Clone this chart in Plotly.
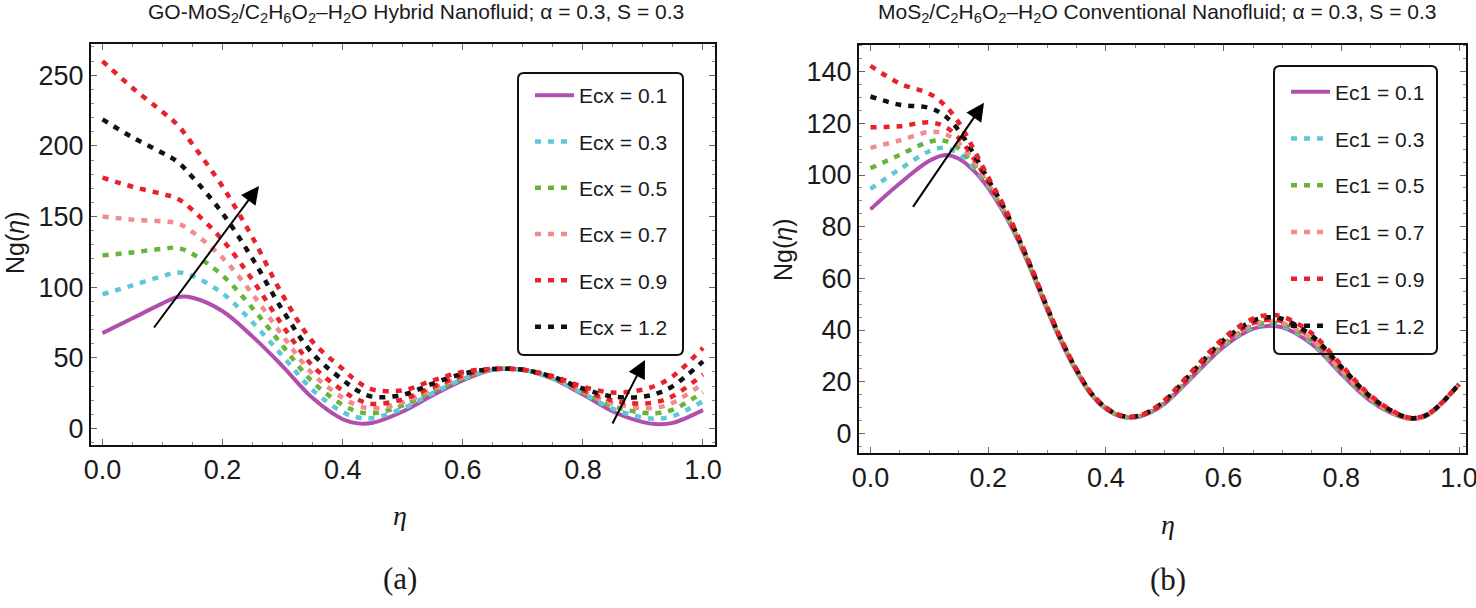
import plotly.graph_objects as go

W, H = 1476, 608

# ---------------- data: panel (a) ----------------
eta_a = [0, 0.05, 0.1, 0.125, 0.15, 0.2, 0.25, 0.3, 0.35, 0.4, 0.425, 0.45, 0.5,
         0.55, 0.6, 0.65, 0.7, 0.75, 0.8, 0.85, 0.9, 0.925, 0.95, 1.0]
ecx_labels = ["Ecx = 0.1", "Ecx = 0.3", "Ecx = 0.5", "Ecx = 0.7", "Ecx = 0.9", "Ecx = 1.2", "Ecx = 1.5"]
ng_a_01 = [67.5, 78.0, 88.5, 93.0, 92.5, 83.0, 65.0, 44.0, 21.5, 6.5, 3.6, 4.0, 12.0,
           23.5, 34.0, 41.5, 41.5, 35.0, 24.0, 12.0, 4.5, 3.0, 4.0, 13.0]
ng_a_03 = [95.0, 101.3, 107.9, 110.4, 108.0, 95.6, 75.0, 51.2, 27.2, 11.6, 7.8, 7.4, 14.1,
           25.0, 34.9, 41.6, 41.5, 35.3, 24.8, 13.9, 7.8, 7.0, 8.7, 19.3]
ng_a_05 = [122.5, 124.6, 127.2, 127.8, 123.5, 108.2, 85.0, 58.4, 32.9, 16.7, 12.0, 10.7, 16.3,
           26.5, 35.7, 41.7, 41.5, 35.6, 25.6, 15.8, 11.1, 11.0, 13.4, 25.6]
ng_a_07 = [150.0, 147.8, 146.6, 145.2, 139.0, 120.7, 95.0, 65.6, 38.6, 21.7, 16.2, 14.1, 18.4,
           28.0, 36.6, 41.8, 41.5, 35.8, 26.3, 17.8, 14.3, 15.0, 18.2, 31.8]
ng_a_09 = [177.5, 171.1, 165.9, 162.6, 154.5, 133.3, 105.0, 72.8, 44.3, 26.8, 20.4, 17.4, 20.6,
           29.5, 37.4, 41.9, 41.5, 36.1, 27.1, 19.7, 17.6, 19.0, 22.9, 38.1]
ng_a_12 = [218.8, 206.0, 195.0, 188.7, 177.8, 152.2, 120.0, 83.6, 52.9, 34.4, 26.7, 22.5, 23.8,
           31.8, 38.7, 42.1, 41.5, 36.5, 28.3, 22.6, 22.5, 25.0, 30.0, 47.5]
ng_a_15 = [260.0, 241.0, 224.0, 214.8, 201.0, 171.1, 135.0, 94.4, 61.4, 42.1, 33.0, 27.5, 27.0,
           34.0, 40.0, 42.2, 41.5, 37.0, 29.5, 25.4, 27.5, 31.0, 37.0, 57.0]

# ---------------- data: panel (b) ----------------
eta_b = [0, 0.05, 0.1, 0.125, 0.15, 0.175, 0.2, 0.225, 0.25, 0.275, 0.3, 0.325, 0.35, 0.375,
         0.4, 0.425, 0.45, 0.475, 0.5, 0.55, 0.6, 0.65, 0.675, 0.7, 0.75, 0.8, 0.85, 0.9,
         0.925, 0.95, 1.0]
ec1_labels = ["Ec1 = 0.1", "Ec1 = 0.3", "Ec1 = 0.5", "Ec1 = 0.7", "Ec1 = 0.9", "Ec1 = 1.2", "Ec1 = 1.5"]
ng_b_01 = [86.7, 96.8, 105.5, 107.7, 106.3, 101.8, 95.0, 86.0, 75.0, 62.0, 48.0, 35.0, 24.0, 15.0,
           9.5, 6.6, 6.2, 8.0, 11.5, 22.5, 33.5, 40.5, 41.6, 41.0, 34.5, 23.0, 12.5, 6.5, 5.6, 7.5, 19.0]
ng_b_03 = [94.6, 102.3, 109.2, 110.5, 108.3, 103.0, 95.6, 86.4, 75.3, 62.2, 48.2, 35.1, 24.1, 15.1,
           9.6, 6.7, 6.3, 8.1, 11.7, 22.9, 34.0, 41.1, 42.2, 41.6, 35.1, 23.5, 12.8, 6.6, 5.7, 7.6, 19.0]
ng_b_05 = [102.6, 107.8, 112.9, 113.3, 110.3, 104.2, 96.2, 86.8, 75.5, 62.4, 48.3, 35.3, 24.2, 15.2,
           9.7, 6.7, 6.3, 8.2, 11.9, 23.2, 34.5, 41.6, 42.8, 42.2, 35.7, 24.0, 13.1, 6.7, 5.7, 7.6, 19.0]
ng_b_07 = [110.5, 113.4, 116.7, 116.1, 112.3, 105.4, 96.8, 87.2, 75.8, 62.6, 48.5, 35.4, 24.4, 15.3,
           9.7, 6.8, 6.4, 8.3, 12.1, 23.6, 34.9, 42.2, 43.4, 42.8, 36.3, 24.5, 13.4, 6.8, 5.8, 7.7, 19.0]
ng_b_09 = [118.5, 118.9, 120.4, 118.9, 114.3, 106.6, 97.4, 87.6, 76.0, 62.8, 48.6, 35.6, 24.5, 15.4,
           9.8, 6.8, 6.4, 8.4, 12.3, 23.9, 35.4, 42.7, 44.0, 43.4, 36.9, 25.0, 13.7, 6.9, 5.8, 7.7, 19.0]
ng_b_12 = [130.4, 127.2, 126.0, 123.1, 117.3, 108.4, 98.3, 88.2, 76.4, 63.1, 48.9, 35.8, 24.7, 15.6,
           9.9, 6.9, 6.5, 8.6, 12.6, 24.5, 36.1, 43.6, 44.9, 44.3, 37.8, 25.8, 14.2, 7.1, 5.9, 7.8, 19.0]
ng_b_15 = [142.3, 135.4, 131.5, 127.3, 120.3, 110.2, 99.2, 88.8, 76.8, 63.4, 49.1, 36.0, 24.8, 15.7,
           10.1, 7.0, 6.6, 8.7, 12.9, 25.0, 36.9, 44.4, 45.8, 45.2, 38.7, 26.5, 14.6, 7.2, 6.0, 7.9, 19.0]

# tick values
xticks = [0.0, 0.2, 0.4, 0.6, 0.8, 1.0]
yticks_a = [0, 50, 100, 150, 200, 250]
yticks_b = [0, 20, 40, 60, 80, 100, 120, 140]

title_a = ("GO-MoS<sub>2</sub>/C<sub>2</sub>H<sub>6</sub>O<sub>2</sub>–H<sub>2</sub>O "
           "Hybrid Nanofluid; α = 0.3, S = 0.3")
title_b = ("MoS<sub>2</sub>/C<sub>2</sub>H<sub>6</sub>O<sub>2</sub>–H<sub>2</sub>O "
           "Conventional Nanofluid; α = 0.3, S = 0.3")

# ---------------- styles ----------------
colors = ["#b04fae", "#5ec8d8", "#66b53b", "#f28b8e", "#e8222a", "#111111", "#e8222a"]
FONT = "Liberation Sans, Arial, sans-serif"
SERIF = "Liberation Serif, Times New Roman, serif"

fig = go.Figure()

series_a = [ng_a_01, ng_a_03, ng_a_05, ng_a_07, ng_a_09, ng_a_12, ng_a_15]
series_b = [ng_b_01, ng_b_03, ng_b_05, ng_b_07, ng_b_09, ng_b_12, ng_b_15]


def line_style(i):
    if i == 0:
        return dict(color=colors[i], width=4, shape="spline", smoothing=1.0)
    return dict(color=colors[i], width=4.5, dash="6px,7px", shape="spline", smoothing=1.0)


for i, ys in enumerate(series_a):
    fig.add_trace(go.Scatter(x=eta_a, y=ys, mode="lines", name=ecx_labels[i],
                             line=line_style(i), xaxis="x", yaxis="y",
                             legend="legend", legendgroup=f"a{i}", showlegend=(i < 6)))
for i, ys in enumerate(series_b):
    fig.add_trace(go.Scatter(x=eta_b, y=ys, mode="lines", name=ec1_labels[i],
                             line=line_style(i), xaxis="x2", yaxis="y2",
                             legend="legend2", legendgroup=f"b{i}", showlegend=(i < 6)))


def px_x(p):
    return p / W


def px_y(p):
    return 1 - p / H


def axis_common():
    return dict(showgrid=False, zeroline=False, showline=True, linecolor="#111", linewidth=2,
                mirror="ticks", ticks="inside", ticklen=6, tickwidth=1, tickcolor="#666",
                automargin=False, ticklabeloverflow="allow",
                tickfont=dict(family=FONT, size=27, color="#1a1a1a"))


xa = axis_common()
xa.update(domain=[px_x(91), px_x(715)], range=[-0.0192, 1.0200], tickvals=xticks,
          ticktext=[f"{v:.1f}" for v in xticks], anchor="y",
          minor=dict(dtick=0.05, tick0=0, ticks="inside", ticklen=3, tickcolor="#888"))
ya = axis_common()
ya.update(domain=[px_y(445), px_y(44)], range=[-11.7, 272.1], tickvals=yticks_a, anchor="x",
          minor=dict(dtick=10, tick0=0, ticks="inside", ticklen=3, tickcolor="#888"))
xb = axis_common()
xb.update(domain=[px_x(859), px_x(1466)], range=[-0.0195, 1.0119], tickvals=xticks,
          ticktext=[f"{v:.1f}" for v in xticks], anchor="y2",
          minor=dict(dtick=0.05, tick0=0, ticks="inside", ticklen=3, tickcolor="#888"))
yb = axis_common()
yb.update(domain=[px_y(453), px_y(44.7)], range=[-7.6, 150.45], tickvals=yticks_b, anchor="x2",
          minor=dict(dtick=5, tick0=0, ticks="inside", ticklen=3, tickcolor="#888"))


def rounded_box(x0, y0, x1, y1, r=6):
    rx, ry = r / W, r / H
    X0, X1 = px_x(x0), px_x(x1)
    Y0, Y1 = px_y(y0), px_y(y1)  # Y0 top, Y1 bottom
    return (f"M {X0+rx},{Y0} L {X1-rx},{Y0} Q {X1},{Y0} {X1},{Y0-ry} "
            f"L {X1},{Y1+ry} Q {X1},{Y1} {X1-rx},{Y1} L {X0+rx},{Y1} "
            f"Q {X0},{Y1} {X0},{Y1+ry} L {X0},{Y0-ry} Q {X0},{Y0} {X0+rx},{Y0} Z")


shapes = [
    dict(type="path", xref="paper", yref="paper", path=rounded_box(518, 73, 683, 355),
         line=dict(color="#111", width=2)),
    dict(type="path", xref="paper", yref="paper", path=rounded_box(1274, 66, 1437, 354),
         line=dict(color="#111", width=2)),
]

legend_common = dict(xanchor="left", yanchor="top", bgcolor="rgba(0,0,0,0)", borderwidth=0,
                     font=dict(family=FONT, size=21, color="#1a1a1a"), tracegroupgap=16,
                     itemwidth=39, traceorder="grouped")
leg_a = dict(legend_common, x=px_x(530), y=px_y(75))
leg_b = dict(legend_common, x=px_x(1286), y=px_y(71.5), tracegroupgap=16.5)

# arrows (data coordinates of annotation arrows)
arrow_a1 = dict(x0=0.084, y0=70.4, x1=0.2606, y1=171.6)
arrow_a2 = dict(x0=0.848, y0=2.5, x1=0.9034, y1=48.5)
arrow_b1 = dict(x0=0.0705, y0=87.1, x1=0.1929, y1=128.0)


def arrow(a, xr, yr):
    return dict(x=a["x1"], y=a["y1"], ax=a["x0"], ay=a["y0"], xref=xr, yref=yr,
                axref=xr, ayref=yr, showarrow=True, arrowhead=2, arrowsize=1.8,
                arrowwidth=2, arrowcolor="#000", text="")


def label(text, x, y, size, family=FONT, angle=0):
    return dict(text=text, x=px_x(x), y=px_y(y), xref="paper", yref="paper", showarrow=False,
                xanchor="center", yanchor="middle", textangle=angle,
                font=dict(family=family, size=size, color="#1a1a1a"))


annotations = [
    label(title_a, 416, 13, 21),
    label(title_b, 1157, 13, 21),
    label("Ng(<i>η</i>)", 15, 243, 25, angle=-90),
    label("Ng(<i>η</i>)", 783, 250, 25, angle=-90),
    label("<i>η</i>", 400, 515, 28, family=SERIF),
    label("<i>η</i>", 1168, 524, 28, family=SERIF),
    label("(a)", 400, 578, 31, family=SERIF),
    label("(b)", 1168, 579, 31, family=SERIF),
    arrow(arrow_a1, "x", "y"),
    arrow(arrow_a2, "x", "y"),
    arrow(arrow_b1, "x2", "y2"),
]

fig.update_layout(
    width=W, height=H, margin=dict(l=0, r=0, t=0, b=0, autoexpand=False),
    paper_bgcolor="white", plot_bgcolor="white",
    xaxis=xa, yaxis=ya, xaxis2=xb, yaxis2=yb,
    legend=leg_a, legend2=leg_b,
    shapes=shapes, annotations=annotations,
    font=dict(family=FONT),
)

fig.write_html("out.html", config={"displayModeBar": False},
               post_script="document.body.style.margin='0';document.body.style.padding='0';"
                           "document.body.style.overflow='hidden';")
